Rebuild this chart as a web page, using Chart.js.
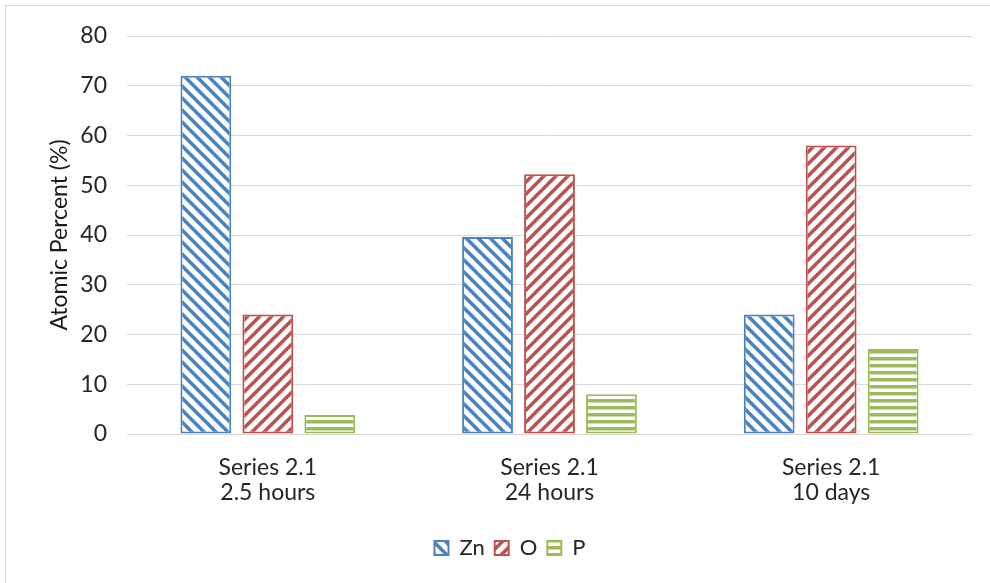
<!DOCTYPE html>
<html>
<head>
<meta charset="utf-8">
<script src="https://cdn.jsdelivr.net/npm/chart.js@4.4.1/dist/chart.umd.min.js"></script>
<style>
  html, body { margin: 0; padding: 0; background: #fff; overflow: hidden; }
  #frame { position: absolute; left: 5px; top: 5px; width: 2000px; height: 2000px; border: 1px solid #d9d9d9; }
  #wrap { position: absolute; left: 0; top: 0; width: 990px; height: 583px; }
</style>
</head>
<body>
<div id="frame"></div>
<div id="wrap"><canvas id="chart" width="990" height="583"></canvas></div>
<script>
// Categories (two-line labels) and atomic percent per element
const categories = [["Series 2.1", "2.5 hours"], ["Series 2.1", "24 hours"], ["Series 2.1", "10 days"]];
const seriesNames = ["Zn", "O", "P"];
const znValues = [72, 39.6, 24];
const oValues = [24, 52.2, 58];
const pValues = [3.8, 8, 17.1];
const yTicks = [0, 10, 20, 30, 40, 50, 60, 70, 80];

const BLUE = "#4f81bd";
const RED = "#c0504d";
const GREEN = "#9bbb59";

// Striped fill tiles
function diagPattern(color, dir) {
  const s = 12, c = document.createElement("canvas");
  c.width = s; c.height = s;
  const g = c.getContext("2d");
  g.fillStyle = "#fff"; g.fillRect(0, 0, s, s);
  g.strokeStyle = color; g.lineWidth = 3.6; g.lineCap = "square";
  g.beginPath();
  for (let k = -1; k <= 1; k++) {
    if (dir === "down") { g.moveTo(k * s - 1, -1); g.lineTo(k * s + s + 1, s + 1); }
    else { g.moveTo(k * s - 1, s + 1); g.lineTo(k * s + s + 1, -1); }
  }
  g.stroke();
  return g.createPattern(c, "repeat");
}
function horizPattern(color) {
  const s = 7, c = document.createElement("canvas");
  c.width = s; c.height = s;
  const g = c.getContext("2d");
  g.fillStyle = "#fff"; g.fillRect(0, 0, s, s);
  g.fillStyle = color; g.fillRect(0, 0, s, 3.5);
  return g.createPattern(c, "repeat");
}

const FONT = "Lato, 'Open Sans', sans-serif";

// Nudge the legend block to the right of the canvas centre
const legendShift = {
  id: "legendShift",
  afterLayout(chart) {
    const lg = chart.legend;
    if (lg) { lg.left += 24; lg.right += 24; }
  }
};

new Chart(document.getElementById("chart"), {
  type: "bar",
  data: {
    labels: categories,
    datasets: [
      { label: seriesNames[0], data: znValues, backgroundColor: diagPattern(BLUE, "down"), borderColor: BLUE },
      { label: seriesNames[1], data: oValues, backgroundColor: diagPattern(RED, "up"), borderColor: RED },
      { label: seriesNames[2], data: pValues, backgroundColor: horizPattern(GREEN), borderColor: GREEN }
    ]
  },
  plugins: [legendShift],
  options: {
    responsive: false,
    animation: false,
    devicePixelRatio: 1,
    layout: { padding: { left: 0, right: 18, top: 36, bottom: 14 } },
    datasets: {
      bar: { borderWidth: 2, borderSkipped: false, categoryPercentage: 0.66, barPercentage: 0.82 }
    },
    plugins: {
      legend: {
        position: "bottom",
        labels: { font: { family: FONT, size: 22 }, color: "#262626", boxWidth: 14, boxHeight: 14, padding: 10 }
      },
      tooltip: { enabled: false }
    },
    scales: {
      x: {
        grid: { display: false, drawTicks: false },
        border: { display: false },
        ticks: { font: { family: FONT, size: 23, lineHeight: 1.09 }, color: "#262626", padding: 21, maxRotation: 0 },
        afterFit: s => { s.height = 93; }
      },
      y: {
        min: 0, max: 80,
        afterBuildTicks: s => { s.ticks = yTicks.map(v => ({ value: v })); },
        grid: { color: "#d9d9d9", lineWidth: 1, drawTicks: false },
        border: { display: false },
        ticks: { font: { family: FONT, size: 23 }, color: "#262626", padding: 20 },
        title: { display: true, text: "Atomic Percent (%)", font: { family: FONT, size: 23 }, color: "#1a1a1a", padding: { top: 46, bottom: 0 } },
        afterFit: s => { s.width = 127; }
      }
    }
  }
});
</script>
</body>
</html>
